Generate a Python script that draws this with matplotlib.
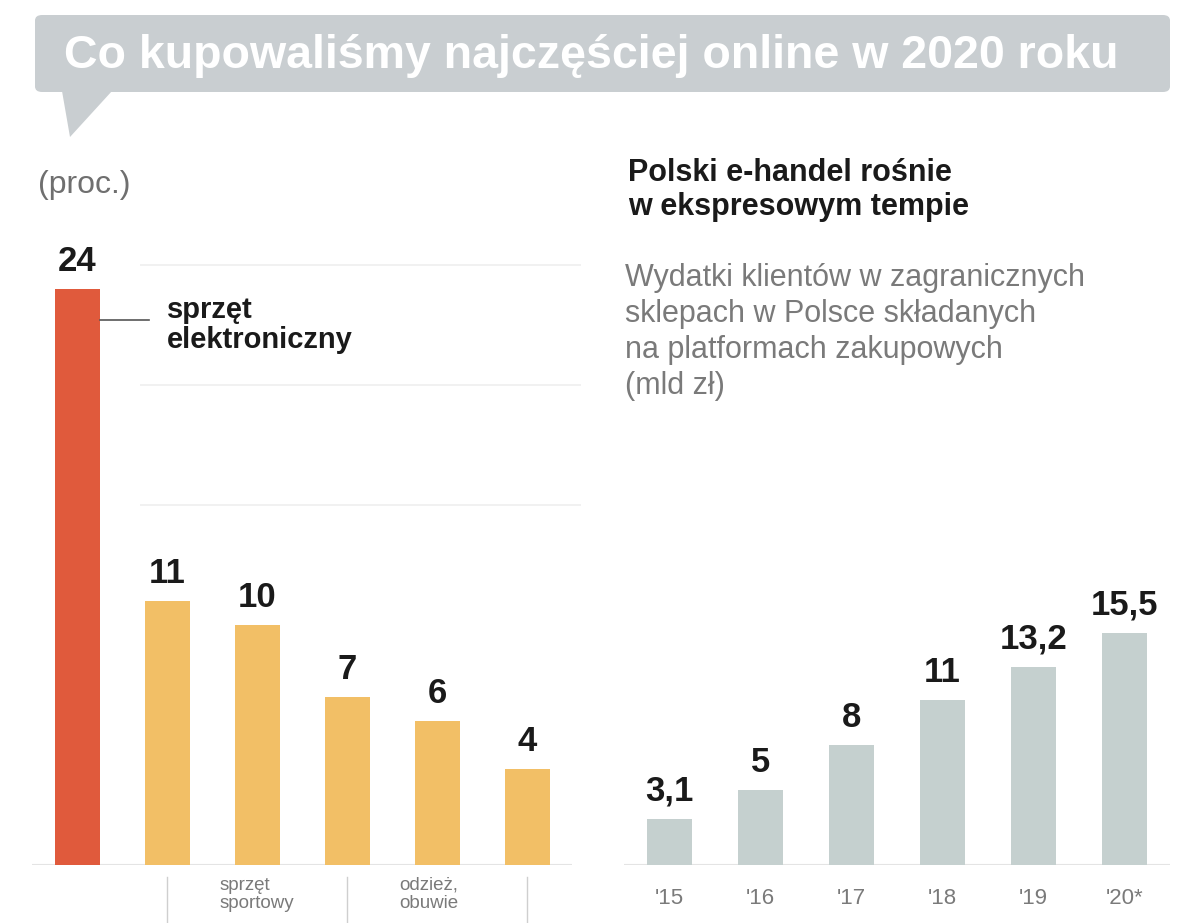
import matplotlib
matplotlib.use('Agg')
import matplotlib.pyplot as plt
from matplotlib.patches import FancyBboxPatch, Polygon

plt.rcParams['font.family'] = ['Liberation Sans', 'DejaVu Sans']

# left chart: what was bought online in 2020 (%)
cat_vals = [24, 11, 10, 7, 6, 4]
cat_labels = ['sprzęt\nelektroniczny', '', 'sprzęt\nsportowy', '', 'odzież,\nobuwie', '']
# right chart: e-commerce spending (mld zł)
years = ["'15", "'16", "'17", "'18", "'19", "'20*"]
spend = [3.1, 5, 8, 11, 13.2, 15.5]
spend_lbl = ['3,1', '5', '8', '11', '13,2', '15,5']

W, H = 1200, 923
fig = plt.figure(figsize=(W / 100, H / 100), dpi=100)
fig.patch.set_facecolor('white')

def fx(x): return x / W
def fy(y): return 1 - y / H

# title banner with speech-bubble tail
banner_c = '#c9ced1'
fig.patches.append(FancyBboxPatch((fx(35), fy(92)), fx(1170) - fx(35), fy(15) - fy(92),
                                  boxstyle='round,pad=0,rounding_size=0.006',
                                  transform=fig.transFigure, fc=banner_c, ec='none'))
fig.patches.append(Polygon([(fx(62), fy(91)), (fx(112), fy(91)), (fx(70), fy(137))],
                           closed=True, transform=fig.transFigure, fc=banner_c, ec='none'))
fig.text(fx(64), fy(56), 'Co kupowaliśmy najczęściej online w 2020 roku', color='white',
         fontsize=33.5, fontweight='bold', va='center', ha='left')

fig.text(fx(38), fy(185), '(proc.)', color='#6f6f6f', fontsize=23, va='center')

fig.text(fx(628), fy(190), 'Polski e-handel rośnie\nw ekspresowym tempie', color='#1a1a1a',
         fontsize=22, fontweight='bold', va='center', linespacing=1.15)
fig.text(fx(625), fy(332), 'Wydatki klientów w zagranicznych\nsklepach w Polsce składanych\n'
         'na platformach zakupowych\n(mld zł)', color='#7a7a7a', fontsize=22,
         va='center', linespacing=1.25)

# left axes: 24 px per unit, 90 px per bar
axL = fig.add_axes([fx(32), fy(865), fx(572) - fx(32), fy(265) - fy(865)])
xs = list(range(len(cat_vals)))
colors = ['#e05a3c'] + ['#f2bf66'] * (len(cat_vals) - 1)
axL.set_xlim(-0.5, 5.5); axL.set_ylim(0, 25)
for g in (15, 20, 25):
    axL.hlines(g, 0.7, 5.6, color='#efefef', lw=1.2, zorder=0, clip_on=False)
axL.bar(xs, cat_vals, width=0.5, color=colors, zorder=2)
for x, v in zip(xs, cat_vals):
    axL.annotate(str(v), (x, v), xytext=(0, 8), textcoords='offset points', ha='center',
                 va='bottom', fontsize=25, fontweight='bold', color='#1a1a1a')
# leader for the top category
axL.plot([0.25, 0.8], [22.7, 22.7], color='#555555', lw=1.2, clip_on=False)
axL.text(1.0, 22.5, cat_labels[0], fontsize=21, fontweight='bold', color='#1a1a1a',
         va='center', ha='left', linespacing=1.1)
# bottom labels under bars 3 and 5, plain leader ticks under the others
for x, lab in zip(xs[1:], cat_labels[1:]):
    if lab:
        axL.text(x - 0.42, -0.5, lab, fontsize=13.5, color='#7a7a7a', va='top', ha='left',
                 clip_on=False, linespacing=1.1)
    else:
        axL.plot([x, x], [-0.5, -3], color='#cfcfcf', lw=1, clip_on=False)
axL.axis('off')
axL.hlines(0, -0.5, 5.5, color='#e4e4e4', lw=1.5, zorder=1)

# right axes: 15 px per unit, 91 px per bar
axR = fig.add_axes([fx(624), fy(865), fx(1170) - fx(624), fy(625) - fy(865)])
xr = list(range(len(spend)))
axR.set_xlim(-0.5, 5.5); axR.set_ylim(0, 16)
axR.bar(xr, spend, width=0.5, color='#c5d0cf', zorder=2)
for x, v, s in zip(xr, spend, spend_lbl):
    axR.annotate(s, (x, v), xytext=(0, 8), textcoords='offset points', ha='center',
                 va='bottom', fontsize=25, fontweight='bold', color='#1a1a1a')
for x, y in zip(xr, years):
    axR.text(x, -1.5, y, ha='center', va='top', fontsize=16, color='#7a7a7a', clip_on=False)
axR.axis('off')
axR.hlines(0, -0.5, 5.5, color='#e4e4e4', lw=1.5, zorder=1)

fig.savefig('out.png', dpi=100)
